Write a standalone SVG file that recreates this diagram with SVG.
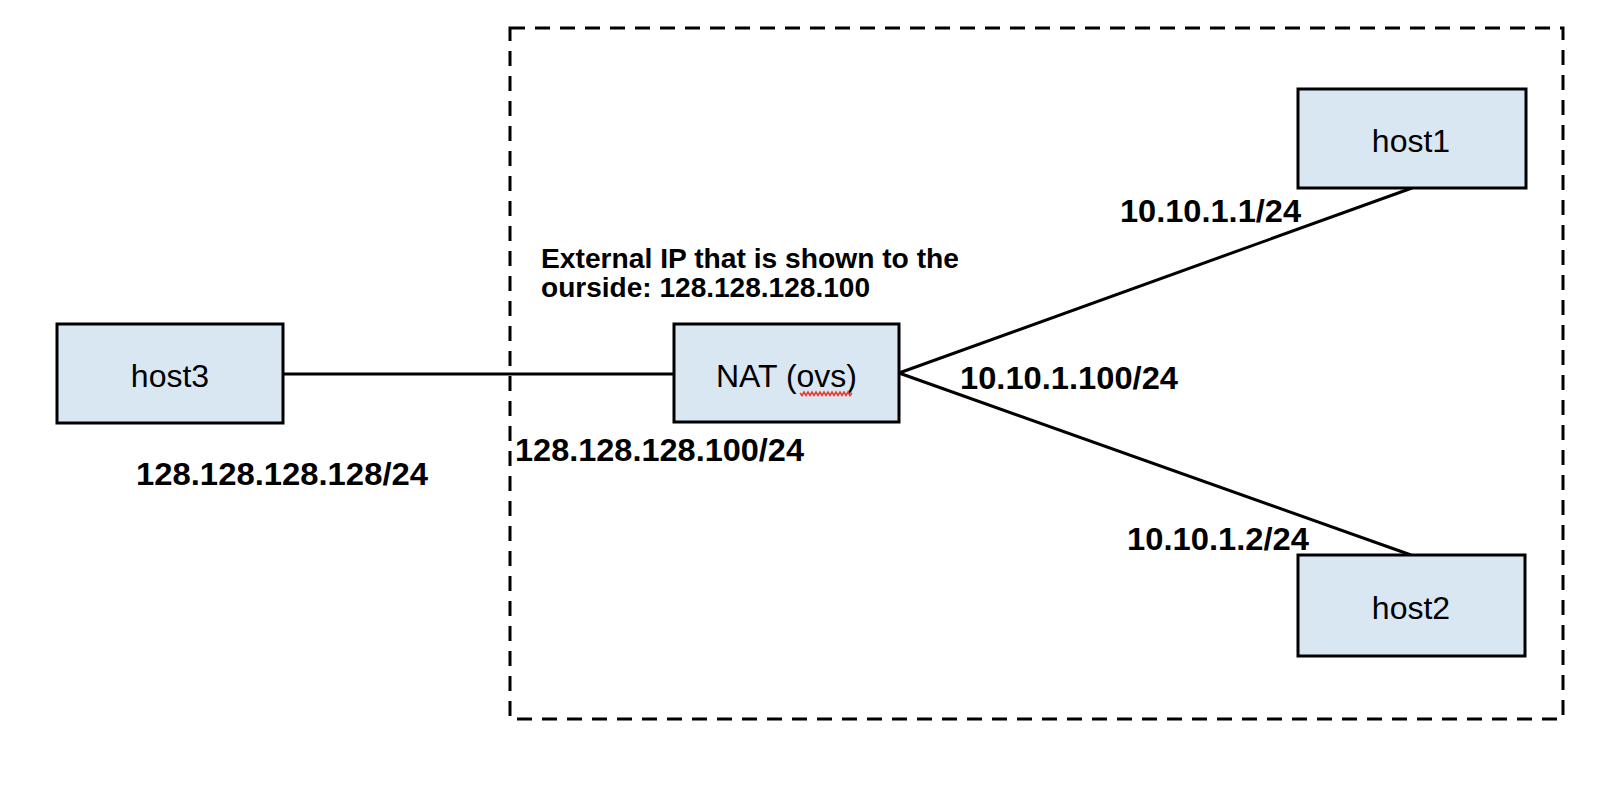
<svg xmlns="http://www.w3.org/2000/svg" width="1606" height="800" viewBox="0 0 1606 800">
<style>
.box{fill:#d9e7f3;stroke:#000;stroke-width:3}
.lbl{font-family:"Liberation Sans",Arial,sans-serif;font-size:32px;fill:#000;text-anchor:middle}
.ip{font-family:"Liberation Sans",Arial,sans-serif;font-size:32px;font-weight:bold;fill:#000}
.ext{font-family:"Liberation Sans",Arial,sans-serif;font-size:28px;font-weight:bold;fill:#000}
.wire{stroke:#000;stroke-width:3;fill:none}
</style>
<rect id="boundary" x="510" y="28" width="1053" height="691" fill="none" stroke="#000" stroke-width="3" stroke-dasharray="15 10"/>
<g id="connectors">
<line class="wire" x1="283" y1="374" x2="674" y2="374"/>
<line class="wire" x1="899" y1="373" x2="1412" y2="188"/>
<line class="wire" x1="899" y1="373" x2="1411" y2="555"/>
</g>
<g id="host3">
<rect class="box" x="57" y="324" width="226" height="99"/>
<text class="lbl" x="170" y="387">host3</text>
</g>
<g id="nat">
<rect class="box" x="674" y="324" width="225" height="98"/>
<text class="lbl" x="786.5" y="387">NAT (ovs)</text>
<polyline points="800,393 802,395.5 804,392 806,395.5 808,392 810,395.5 812,392 814,395.5 816,392 818,395.5 820,392 822,395.5 824,392 826,395.5 828,392 830,395.5 832,392 834,395.5 836,392 838,395.5 840,392 842,395.5 844,392 846,395.5 848,392 850,395.5 852,393" fill="none" stroke="#e8392f" stroke-width="1.6"/>
</g>
<g id="host1">
<rect class="box" x="1298" y="89" width="228" height="99"/>
<text class="lbl" x="1411" y="152">host1</text>
</g>
<g id="host2">
<rect class="box" x="1298" y="555" width="227" height="101"/>
<text class="lbl" x="1411" y="619">host2</text>
</g>
<g id="labels">
<text class="ext" x="541" y="268" textLength="418" lengthAdjust="spacingAndGlyphs">External IP that is shown to the</text>
<text class="ext" x="541" y="297" textLength="329" lengthAdjust="spacingAndGlyphs">ourside: 128.128.128.100</text>
<text class="ip" x="1120" y="222" textLength="181" lengthAdjust="spacingAndGlyphs">10.10.1.1/24</text>
<text class="ip" x="960" y="389" textLength="218" lengthAdjust="spacingAndGlyphs">10.10.1.100/24</text>
<text class="ip" x="515" y="461" textLength="289" lengthAdjust="spacingAndGlyphs">128.128.128.100/24</text>
<text class="ip" x="136" y="485" textLength="292" lengthAdjust="spacingAndGlyphs">128.128.128.128/24</text>
<text class="ip" x="1127" y="550" textLength="182" lengthAdjust="spacingAndGlyphs">10.10.1.2/24</text>
</g>
</svg>
